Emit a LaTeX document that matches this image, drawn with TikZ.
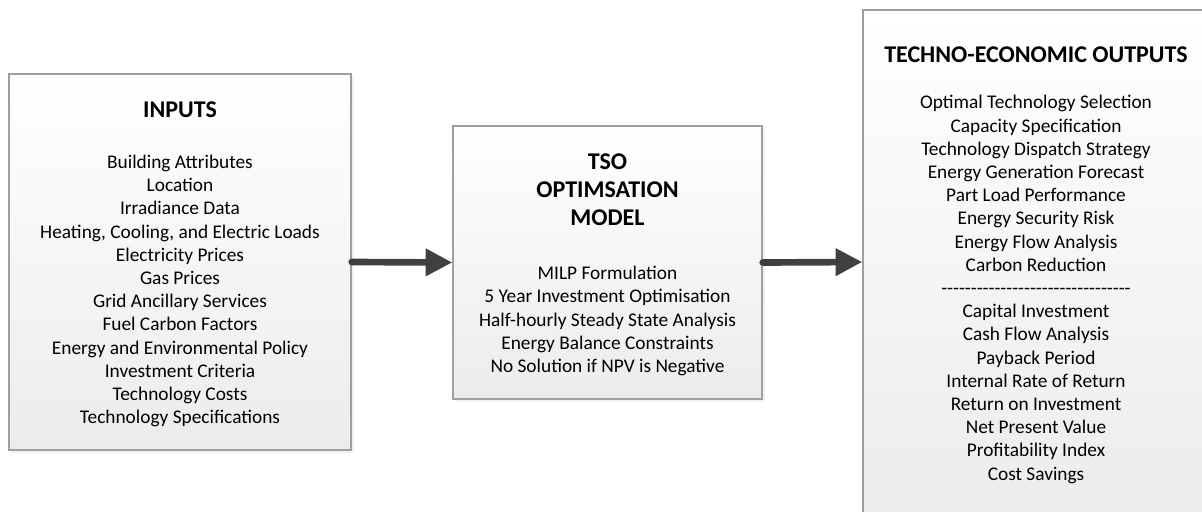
\documentclass[tikz,border=0pt]{standalone}
\usepackage{fontspec}
\setmainfont{Carlito}
\usetikzlibrary{arrows.meta,shadows}

\tikzset{
  panel/.style={draw=gray!75, line width=1pt, top color=white, bottom color=gray!15,
    drop shadow={shadow xshift=2pt, shadow yshift=-2pt, fill=gray!30, opacity=0.35},
    inner sep=0pt},
  heading/.style={font=\fontsize{18}{21}\selectfont\bfseries, align=center},
  items/.style={font=\fontsize{14.5}{17.4}\selectfont, align=center},
  flow/.style={-{Triangle[length=20pt,width=19.5pt]}, line width=5pt, line cap=round, black!75},
}
% row of plain hyphens (kerns stop the -- ligature)
\newcommand{\hyphenrow}{\foreach \k in {1,...,32}{-\kern0pt}}

\begin{document}
\begin{tikzpicture}[x=0.75pt, y=-0.75pt]
  \useasboundingbox (0,0) rectangle (1202,511);
  \clip (0,0) rectangle (1202,511);
  % the three boxes
  \node[panel, minimum width=256.5pt, minimum height=282pt] (inputs) at (180,262) {};
  \node[panel, minimum width=231.75pt, minimum height=204.75pt] (tso) at (607.5,262.5) {};
  \node[panel, minimum width=259.5pt, minimum height=378pt] (outputs) at (1036,262) {};
  % inputs
  \node[heading] (inputstitle) at (180,110) {INPUTS};
  \node[items] (inputslist) at (180,291) {Building Attributes\\ Location\\ Irradiance Data\\
    Heating, Cooling, and Electric Loads\\ Electricity Prices\\ Gas Prices\\
    Grid Ancillary Services\\ Fuel Carbon Factors\\ Energy and Environmental Policy\\
    Investment Criteria\\ Technology Costs\\ Technology Specifications};
  % optimisation model
  \node[heading] (tsotitle) at (607.5,190) {TSO\\ OPTIMSATION\\ MODEL};
  \node[items] (tsolist) at (607.5,321) {MILP Formulation\\ 5 Year Investment Optimisation\\
    Half-hourly Steady State Analysis\\ Energy Balance Constraints\\ No Solution if NPV is Negative};
  % outputs
  \node[heading] (outputstitle) at (1036,55) {TECHNO-ECONOMIC OUTPUTS};
  \node[items] (outputslist) at (1036,289.5) {Optimal Technology Selection\\ Capacity Specification\\
    Technology Dispatch Strategy\\ Energy Generation Forecast\\ Part Load Performance\\
    Energy Security Risk\\ Energy Flow Analysis\\ Carbon Reduction\\ \hyphenrow\\
    Capital Investment\\ Cash Flow Analysis\\ Payback Period\\ Internal Rate of Return\\
    Return on Investment\\ Net Present Value\\ Profitability Index\\ Cost Savings};
  % arrows between the boxes
  \draw[flow] (inputs.east) -- (tso.west);
  \draw[flow] (tso.east) -- (outputs.west);
\end{tikzpicture}
\end{document}
